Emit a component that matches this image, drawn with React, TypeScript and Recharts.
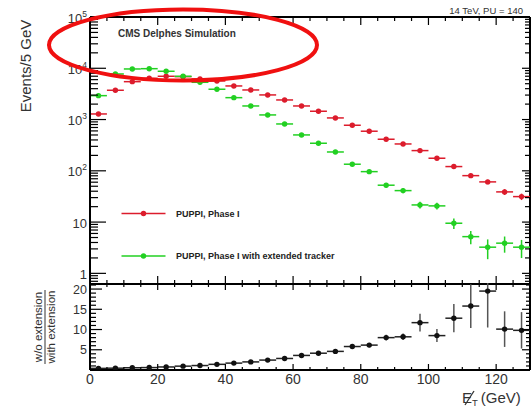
import React from 'react';
import { ScatterChart, Scatter, XAxis, YAxis, ErrorBar, ReferenceLine } from 'recharts';

// ---------------- data ----------------
const binCenters = [2.5, 7.5, 12.5, 17.5, 22.5, 27.5, 32.5, 37.5, 42.5, 47.5, 52.5, 57.5, 62.5, 67.5, 72.5, 77.5, 82.5, 87.5, 92.5, 97.5, 102.5, 107.5, 112.5, 117.5, 122.5, 127.5];
const BIN_HALF_WIDTH = 2.5;

const redValues = [1285, 3725, 5480, 6380, 6980, 6860, 6190, 5650, 4520, 3775, 3020, 2410, 1840, 1452, 1075, 774, 592, 413, 334, 248, 176, 121, 80.5, 60.8, 38.8, 31.4];
const redErrors = [30, 50, 60, 65, 70, 70, 65, 60, 55, 50, 45, 40, 35, 30, 26, 22, 19, 16, 14, 12, 10, 8.5, 7, 6, 5, 4.5];

const greenValues = [2924, 7740, 9690, 9820, 8740, 6980, 5330, 3900, 2672, 1840, 1230, 820, 501, 345, 233, 134.5, 96.4, 52.4, 41.1, 21.6, 20.7, 9.5, 5.2, 3.24, 3.88, 3.24];
const greenErrors = [45, 75, 85, 85, 80, 70, 60, 50, 42, 35, 28, 22, 17, 14, 11, 8, 7, 5, 4.5, 3.2, 3.1, 2.2, 1.5, 1.35, 1.35, 1.25];

const ratioValues = [0.4, 0.45, 0.55, 0.6, 0.75, 0.95, 1.1, 1.4, 1.7, 2.0, 2.45, 2.85, 3.6, 4.15, 4.6, 5.8, 6.15, 8.0, 8.2, 11.7, 8.5, 12.8, 15.8, 19.5, 10.1, 9.8];
const ratioErrors = [0.02, 0.02, 0.03, 0.03, 0.04, 0.05, 0.06, 0.08, 0.1, 0.12, 0.15, 0.2, 0.25, 0.3, 0.35, 0.45, 0.55, 0.7, 0.8, 2.2, 1.6, 3.5, 5.4, 9, 4.4, 4.5];

const xTicks = [0, 5, 10, 15, 20, 25, 30, 35, 40, 45, 50, 55, 60, 65, 70, 75, 80, 85, 90, 95, 100, 105, 110, 115, 120, 125, 130];
const xLabelTicks = [0, 20, 40, 60, 80, 100, 120];
const logTicks = [0.7, 0.8, 0.9, 1, 2, 3, 4, 5, 6, 7, 8, 9, 10, 20, 30, 40, 50, 60, 70, 80, 90, 100, 200, 300, 400, 500, 600, 700, 800, 900, 1000, 2000, 3000, 4000, 5000, 6000, 7000, 8000, 9000, 10000, 20000, 30000, 40000, 50000, 60000, 70000, 80000, 90000, 100000];
const logLabelTicks = [1, 10, 100, 1000, 10000, 100000];
const ratioTicks = [0, 1, 2, 3, 4, 5, 6, 7, 8, 9, 10, 11, 12, 13, 14, 15, 16, 17, 18, 19, 20, 21];
const ratioLabelTicks = [5, 10, 15, 20];

const seriesNames = ['PUPPI, Phase I', 'PUPPI, Phase I with extended tracker'];

// ---------------- layout / style ----------------
const W = 532;
const H = 408;
const PLOT_LEFT = 90;
const PLOT_RIGHT = 530;
const TOP_Y = 17;
const SPLIT_Y = 284;
const BOTTOM_Y = 370;
const PLOT_W = PLOT_RIGHT - PLOT_LEFT;
const TOP_H = SPLIT_Y - TOP_Y;
const RATIO_H = BOTTOM_Y - SPLIT_Y;

const RED = '#dc1c2c';
const GREEN = '#22d022';
const BLACK = '#111111';
const TEXT = '#333333';
const FONT = '"Liberation Sans", Arial, Helvetica, sans-serif';

const toPoints = (vals: number[], errs: number[]) =>
  binCenters.map((x, i) => ({ x, y: vals[i], ex: BIN_HALF_WIDTH, ey: errs[i] }));

const redPoints = toPoints(redValues, redErrors);
const greenPoints = toPoints(greenValues, greenErrors);
const ratioPoints = toPoints(ratioValues, ratioErrors);

const dot = (color: string) => (p: any) => <circle cx={p.cx} cy={p.cy} r={2.7} fill={color} />;

const isMajorLog = (v: number) => logLabelTicks.includes(v);

const LogYTick = (props: any) => {
  const { x, y, payload } = props;
  const v = payload.value;
  const major = isMajorLog(v);
  const e = Math.round(Math.log10(v));
  return (
    <g>
      <line x1={x} x2={x + (major ? 16 : 8)} y1={y} y2={y} stroke="#000" strokeWidth={1.2} />
      <line x1={x + PLOT_W} x2={x + PLOT_W - (major ? 8 : 5)} y1={y} y2={y} stroke="#000" strokeWidth={1.2} />
      {major && (
        <text x={x - 3} y={y + 5.5} textAnchor="end" fontSize={13} fill={TEXT} fontFamily={FONT}>
          {v === 1 ? '1' : '10'}
          {e >= 2 && (
            <tspan fontSize={8.5} dy={-6}>{String(e)}</tspan>
          )}
        </text>
      )}
    </g>
  );
};

const TopXTick = (props: any) => {
  const { x, y, payload } = props;
  const major = xLabelTicks.includes(payload.value);
  const len = major ? 8 : 4;
  return (
    <g>
      <line x1={x} x2={x} y1={y} y2={y - len} stroke="#000" strokeWidth={1.2} />
      <line x1={x} x2={x} y1={y - TOP_H} y2={y - TOP_H + len} stroke="#000" strokeWidth={1.2} />
    </g>
  );
};

const BottomXTick = (props: any) => {
  const { x, y, payload } = props;
  const major = xLabelTicks.includes(payload.value);
  const len = major ? 6 : 3;
  return (
    <g>
      <line x1={x} x2={x} y1={y} y2={y - len} stroke="#000" strokeWidth={1.2} />
      <line x1={x} x2={x} y1={y - RATIO_H} y2={y - RATIO_H + len} stroke="#000" strokeWidth={1.2} />
      {major && (
        <text x={x} y={y + 13.5} textAnchor="middle" fontSize={14} fill={TEXT} fontFamily={FONT}>
          {payload.value}
        </text>
      )}
    </g>
  );
};

const RatioYTick = (props: any) => {
  const { x, y, payload } = props;
  const v = payload.value;
  const major = v % 5 === 0;
  return (
    <g>
      <line x1={x} x2={x + (major ? 12 : 6)} y1={y} y2={y} stroke="#000" strokeWidth={1.2} />
      <line x1={x + PLOT_W} x2={x + PLOT_W - (major ? 8 : 4)} y1={y} y2={y} stroke="#000" strokeWidth={1.2} />
      {ratioLabelTicks.includes(v) && (
        <text x={x - 3} y={y + 4.5} textAnchor="end" fontSize={12.5} fill={TEXT} fontFamily={FONT}>
          {v}
        </text>
      )}
    </g>
  );
};

const frame = { stroke: '#000', strokeWidth: 2 };

export default function App() {
  return (
    <div style={{ position: 'absolute', left: 0, top: 0, width: W, height: H, background: '#fff', overflow: 'hidden' }}>
      <div style={{ position: 'absolute', left: 0, top: 0 }}>
        <ScatterChart width={W} height={SPLIT_Y + 6} margin={{ top: TOP_Y, right: W - PLOT_RIGHT, bottom: 0, left: 0 }}>
          <XAxis type="number" dataKey="x" domain={[0, 130]} ticks={xTicks} interval={0} height={6}
            tickSize={0} tickMargin={0} tick={TopXTick} tickLine={false} axisLine={frame} allowDataOverflow />
          <YAxis type="number" dataKey="y" scale="log" domain={[0.62, 100000]} ticks={logTicks} interval={0}
            width={PLOT_LEFT} tickSize={0} tickMargin={0} tick={LogYTick} tickLine={false} axisLine={frame} allowDataOverflow />
          <ReferenceLine y={100000} stroke="#000" strokeWidth={2} />
          <ReferenceLine x={130} stroke="#000" strokeWidth={2} />
          <Scatter name={seriesNames[0]} data={redPoints} fill={RED} shape={dot(RED)} isAnimationActive={false}>
            <ErrorBar dataKey="ex" direction="x" width={0} stroke={RED} strokeWidth={1.5} />
            <ErrorBar dataKey="ey" direction="y" width={0} stroke={RED} strokeWidth={1.5} />
          </Scatter>
          <Scatter name={seriesNames[1]} data={greenPoints} fill={GREEN} shape={dot(GREEN)} isAnimationActive={false}>
            <ErrorBar dataKey="ex" direction="x" width={0} stroke={GREEN} strokeWidth={1.5} />
            <ErrorBar dataKey="ey" direction="y" width={0} stroke={GREEN} strokeWidth={1.5} />
          </Scatter>
        </ScatterChart>
      </div>
      <div style={{ position: 'absolute', left: 0, top: 0, clipPath: `inset(${SPLIT_Y - 1}px 0px 0px 0px)` }}>
        <ScatterChart width={W} height={H} margin={{ top: SPLIT_Y, right: W - PLOT_RIGHT, bottom: 0, left: 0 }}>
          <XAxis type="number" dataKey="x" domain={[0, 130]} ticks={xTicks} interval={0} height={H - BOTTOM_Y}
            tickSize={0} tickMargin={0} tick={BottomXTick} tickLine={false} axisLine={frame} allowDataOverflow />
          <YAxis type="number" dataKey="y" domain={[0, 21.25]} ticks={ratioTicks} interval={0}
            width={PLOT_LEFT} tickSize={0} tickMargin={0} tick={RatioYTick} tickLine={false} axisLine={frame} allowDataOverflow />
          <ReferenceLine y={21.25} stroke="#000" strokeWidth={2} />
          <ReferenceLine x={130} stroke="#000" strokeWidth={2} />
          <Scatter name="ratio" data={ratioPoints} fill={BLACK} shape={dot(BLACK)} isAnimationActive={false}>
            <ErrorBar dataKey="ex" direction="x" width={0} stroke="#222" strokeWidth={1.5} />
            <ErrorBar dataKey="ey" direction="y" width={0} stroke="#555" strokeWidth={1.5} />
          </Scatter>
        </ScatterChart>
      </div>
      <svg width={W} height={H} style={{ position: 'absolute', left: 0, top: 0, pointerEvents: 'none' }} fontFamily={FONT}>
        <text x={523} y={14} textAnchor="end" fontSize={9.5} fill={TEXT}>14 TeV, PU = 140</text>
        <text x={118} y={37} fontSize={10} fontWeight="bold" fill={TEXT}>CMS Delphes Simulation</text>
        <text transform="translate(31,66) rotate(-90)" textAnchor="middle" fontSize={15} fill={TEXT}>Events/5 GeV</text>
        <g transform="translate(45,327) rotate(-90)">
          <text x={0} y={-3} textAnchor="middle" fontSize={11.5} fill={TEXT}>w/o extension</text>
          <line x1={-37} x2={37} y1={0} y2={0} stroke={TEXT} strokeWidth={1} />
          <text x={0} y={10} textAnchor="middle" fontSize={11.5} fill={TEXT}>with extension</text>
        </g>
        {/* legend */}
        <line x1={121.5} x2={165.5} y1={213.5} y2={213.5} stroke={RED} strokeWidth={1.5} />
        <circle cx={143.5} cy={213.5} r={2.7} fill={RED} />
        <text x={176} y={216.5} fontSize={9} fontWeight="bold" fill="#222">{seriesNames[0]}</text>
        <line x1={121.5} x2={165.5} y1={256} y2={256} stroke={GREEN} strokeWidth={1.5} />
        <circle cx={143.5} cy={256} r={2.7} fill={GREEN} />
        <text x={176} y={259} fontSize={9} fontWeight="bold" fill="#222">{seriesNames[1]}</text>
        {/* x axis title */}
        <text x={462} y={403} fontSize={15} fill={TEXT}>
          E<tspan fontSize={9.5} dy={3}>T</tspan><tspan dy={-3} dx={3}>(GeV)</tspan>
        </text>
        <line x1={465} x2={474} y1={405} y2={391} stroke={TEXT} strokeWidth={1.3} />
        {/* annotation ellipse */}
        <ellipse cx={183} cy={45} rx={134} ry={35.5} fill="none" stroke="#f01010" strokeWidth={4} />
      </svg>
    </div>
  );
}
